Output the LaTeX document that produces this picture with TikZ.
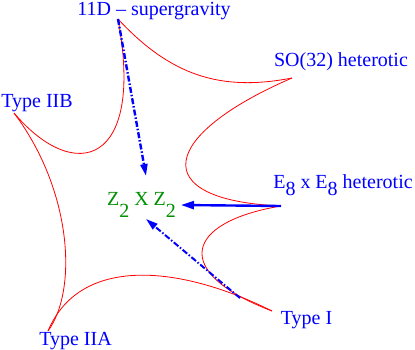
\documentclass[tikz,border=0pt]{standalone}
\usepackage{fontspec}
\setmainfont{Liberation Serif}
\usetikzlibrary{arrows.meta}
\definecolor{zgreen}{RGB}{0,144,0}
\newcommand{\lowsub}[2]{\raisebox{-#1}{#2}}
\tikzset{
  curve/.style={draw=red, line width=0.8bp},
  lbl/.style={text=blue, font=\fontsize{20bp}{24bp}\selectfont, inner sep=0pt, anchor=base},
  zlbl/.style={text=zgreen, font=\fontsize{20bp}{24bp}\selectfont, inner sep=0pt, anchor=base},
  dasharrow/.style={draw=blue, line width=2.4bp, dash pattern=on 6bp off 2bp on 1.5bp off 2bp, -{Triangle[length=12bp,width=7bp]}},
  solidarrow/.style={draw=blue, line width=2.4bp, -{Triangle[length=13bp,width=8bp]}}
}
\begin{document}
\begin{tikzpicture}[x=1bp,y=-1bp]
\useasboundingbox (0,0) rectangle (415,350);
% cusps
\coordinate (c11) at (118,19);
\coordinate (cso) at (292,78);
\coordinate (ce8) at (281,206);
\coordinate (ci) at (272,311);
\coordinate (ciia) at (48,331);
\coordinate (ciib) at (14,113);
% arrow ends
\coordinate (a3s) at (240,298);
\coordinate (t1) at (146,176);
\coordinate (t2) at (181,205);
\coordinate (t3) at (146,219);
% labels
\node[lbl] (l11) at (154,15) {11D -- supergravity};
\node[lbl] (lso) at (341,66) {SO(32) heterotic};
\node[lbl] (liib) at (37,107) {Type IIB};
\node[lbl] (le8) at (343,188) {E\lowsub{7bp}{8} x E\lowsub{7bp}{8} heterotic};
\node[zlbl] (lz) at (141.5,205) {Z\lowsub{12bp}{2} X Z\lowsub{12bp}{2}};
\node[lbl] (li) at (306.5,324) {Type I};
\node[lbl] (liia) at (75.5,345) {Type IIA};
% red curves
\draw[curve] (c11) .. controls (170,75) and (220,92) .. (cso);
\draw[curve] (cso) .. controls (160,135) and (145,200) .. (ce8);
\draw[curve] (ce8) .. controls (185,222) and (170,272) .. (ci);
\draw[curve] (ci) .. controls (180,265) and (80,255) .. (ciia);
\draw[curve] (ciia) .. controls (78,290) and (72,190) .. (ciib);
\draw[curve] (ciib) .. controls (75,185) and (145,165) .. (c11);
% arrows
\draw[dasharrow] (c11) -- (t1);
\draw[solidarrow] (ce8) -- (t2);
\draw[dasharrow, line width=2bp] (a3s) -- (t3);
\end{tikzpicture}
\end{document}
